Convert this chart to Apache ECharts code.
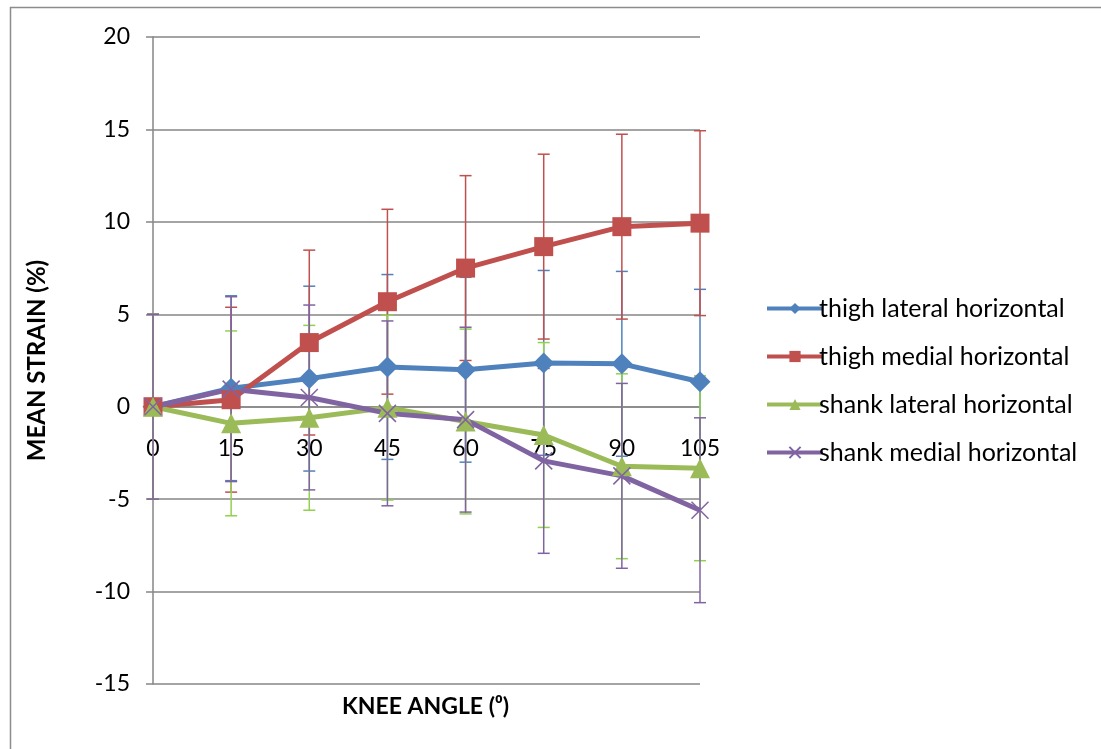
<!DOCTYPE html>
<html>
<head>
<meta charset="utf-8">
<title>Mean strain vs knee angle</title>
<script src="https://cdn.jsdelivr.net/npm/echarts@6/dist/echarts.min.js"></script>
<style>
  html, body { margin: 0; padding: 0; background: #ffffff; }
  #chart { width: 1101px; height: 749px; }
</style>
</head>
<body>
<div id="chart"></div>
<script>
// Knee angle categories (degrees)
const angles = ['0', '15', '30', '45', '60', '75', '90', '105'];

// Mean strain (%) per gauge position
const thighLateral = [0, 1.0, 1.52, 2.15, 2.0, 2.37, 2.32, 1.35];
const thighMedial  = [0, 0.38, 3.47, 5.68, 7.5, 8.66, 9.74, 9.93];
const shankLateral = [0, -0.9, -0.6, -0.05, -0.8, -1.53, -3.22, -3.33];
const shankMedial  = [0, 0.95, 0.5, -0.36, -0.7, -2.93, -3.74, -5.6];

// Error bar half-lengths (fixed ±5 %)
const thighLateralErr = [5, 5, 5, 5, 5, 5, 5, 5];
const thighMedialErr  = [5, 5, 5, 5, 5, 5, 5, 5];
const shankLateralErr = [5, 5, 5, 5, 5, 5, 5, 5];
const shankMedialErr  = [5, 5, 5, 5, 5, 5, 5, 5];

// Y axis ticks
const yMin = -15, yMax = 20, yStep = 5;

const FONT = 'Lato, "Open Sans", sans-serif';

// Plot rectangle
const GRID = { left: 153, right: 401, top: 37, bottom: 65 };
const plotHeight = 749 - GRID.top - GRID.bottom;
// the category axis sits on the zero line of the value axis
const xAxisOffset = -plotHeight * (0 - yMin) / (yMax - yMin);

const seriesDefs = [
  { name: 'thigh lateral horizontal', data: thighLateral, err: thighLateralErr,
    color: '#4F81BD', errColor: '#4F81BD', symbol: 'diamond', size: 21 },
  { name: 'thigh medial horizontal', data: thighMedial, err: thighMedialErr,
    color: '#C0504D', errColor: '#C0504D', symbol: 'rect', size: 19 },
  { name: 'shank lateral horizontal', data: shankLateral, err: shankLateralErr,
    color: '#9BBB59', errColor: '#92D050', symbol: 'triangle', size: 20 },
  { name: 'shank medial horizontal', data: shankMedial, err: shankMedialErr,
    color: '#8064A2', errColor: '#8064A2', symbol: 'path://M0,0L10,10M10,0L0,10', size: 17 }
];

function errorBarSeries(def) {
  return {
    type: 'custom',
    name: def.name + ' (error)',
    z: 1,
    silent: true,
    clip: false,
    encode: { x: 0, y: 1 },
    data: def.data.map((v, i) => [i, v, def.err[i]]),
    renderItem: function (params, api) {
      const i = api.value(0);
      const v = api.value(1);
      const e = api.value(2);
      const top = api.coord([i, v + e]);
      const bot = api.coord([i, v - e]);
      const cap = 6;
      const style = { stroke: def.errColor, lineWidth: 1.5, fill: null };
      return {
        type: 'group',
        children: [
          { type: 'line', shape: { x1: top[0], y1: top[1], x2: bot[0], y2: bot[1] }, style: style },
          { type: 'line', shape: { x1: top[0] - cap, y1: top[1], x2: top[0] + cap, y2: top[1] }, style: style },
          { type: 'line', shape: { x1: bot[0] - cap, y1: bot[1], x2: bot[0] + cap, y2: bot[1] }, style: style }
        ]
      };
    }
  };
}

function lineSeries(def) {
  const isCross = def.symbol.indexOf('path://') === 0;
  return {
    type: 'line',
    name: def.name,
    z: 3,
    data: def.data,
    symbol: def.symbol,
    symbolSize: def.size,
    showAllSymbol: true,
    clip: false,
    lineStyle: { color: def.color, width: 5 },
    itemStyle: isCross
      ? { color: def.color, borderColor: def.color, borderWidth: 1.5 }
      : { color: def.color, borderWidth: 0 },
    emphasis: { disabled: true },
    animation: false
  };
}

const chart = echarts.init(document.getElementById('chart'), null, { renderer: 'canvas' });

const option = {
  backgroundColor: '#ffffff',
  animation: false,
  textStyle: { fontFamily: FONT },
  grid: Object.assign({ containLabel: false }, GRID),
  legend: {
    data: seriesDefs.map(d => d.name),
    orient: 'vertical',
    left: 760,
    top: 291,
    itemWidth: 56,
    itemHeight: 14,
    itemGap: 23,
    lineStyle: { width: 4 },
    textStyle: { fontFamily: FONT, fontSize: 25, color: '#000000', padding: [0, 0, 0, -9] },
    selectedMode: false
  },
  xAxis: {
    type: 'category',
    data: angles,
    boundaryGap: false,
    offset: xAxisOffset,
    axisLine: { show: true, onZero: false, lineStyle: { color: '#868686', width: 1.5 } },
    axisTick: { show: false },
    axisLabel: { color: '#000000', fontSize: 23, fontFamily: FONT, margin: 30 },
    splitLine: { show: false }
  },
  yAxis: {
    type: 'value',
    min: yMin,
    max: yMax,
    interval: yStep,
    axisLine: { show: true, lineStyle: { color: '#868686', width: 1.5 } },
    axisTick: { show: true, inside: false, length: 7, lineStyle: { color: '#868686', width: 1.5 } },
    axisLabel: { color: '#000000', fontSize: 23, fontFamily: FONT, margin: 23 },
    splitLine: { show: true, lineStyle: { color: '#868686', width: 1.5 } },
    name: 'MEAN STRAIN (%)',
    nameLocation: 'middle',
    nameGap: 104,
    nameRotate: 90,
    nameTextStyle: { color: '#000000', fontSize: 24, fontWeight: 'bold', fontFamily: FONT }
  },
  graphic: [
    {
      type: 'rect',
      left: 8, top: 5,
      shape: { width: 1100, height: 760 },
      style: { fill: null, stroke: '#8c8c8c', lineWidth: 1.5 },
      silent: true
    },
    {
      type: 'text',
      left: 342, top: 695,
      style: { text: 'KNEE ANGLE (\u2070)', fill: '#000000', font: 'bold 23px ' + FONT },
      silent: true
    }
  ],
  series: seriesDefs.map(errorBarSeries).concat(seriesDefs.map(lineSeries))
};

chart.setOption(option);
</script>
</body>
</html>
